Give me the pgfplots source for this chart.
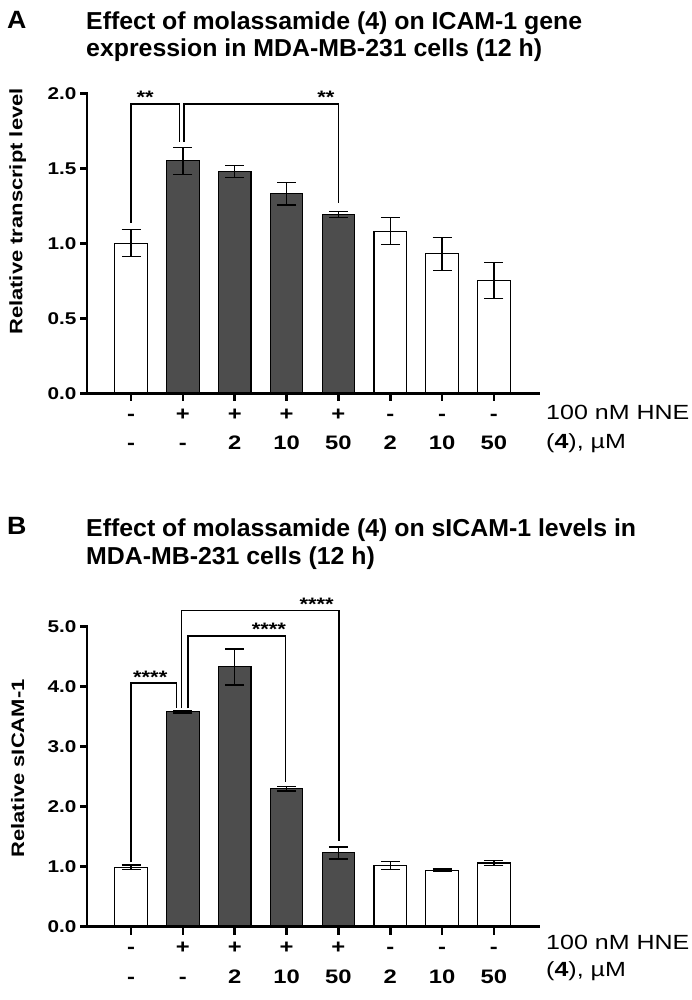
\documentclass[border=0pt]{standalone}
\usepackage{fontspec}
\setmainfont{Liberation Sans}
\newfontfamily\widefont[FakeStretch=1.22]{Liberation Sans}
\newfontfamily\titlefont[FakeStretch=1.015]{Liberation Sans}
\newfontfamily\panelfont[FakeStretch=1.07]{Liberation Sans}
\usepackage{pgfplots}
\usepackage{pgfplotstable}
\pgfplotsset{compat=1.18}
\definecolor{darkbar}{RGB}{77,77,77}

\pgfplotstableread{
x y e
1 1.00 0.09
6 1.08 0.09
7 0.93 0.11
8 0.75 0.12
}\Awhite
\pgfplotstableread{
x y e
2 1.55 0.09
3 1.48 0.04
4 1.33 0.075
5 1.19 0.02
}\Adark
\pgfplotstableread{
x y e
1 0.99 0.04
6 1.02 0.07
7 0.94 0.02
8 1.06 0.04
}\Bwhite
\pgfplotstableread{
x y e
2 3.58 0.02
3 4.33 0.30
4 2.30 0.04
5 1.23 0.10
}\Bdark

\tikzset{
  whitebar/.style={fill=white, draw=black, line width=1.2pt},
  darkbar/.style={fill=darkbar, draw=black, line width=1.2pt},
  bracket/.style={line width=1.2pt, black},
  spine/.style={line width=2.6pt, black, line cap=rect},
  tk/.style={line width=2.6pt, black},
  stars/.style={anchor=base, inner sep=0pt, font=\widefont\bfseries\fontsize{18}{18}\selectfont},
}
\pgfplotsset{
  myaxis/.style={
    scale only axis, width=451.5pt, height=300pt,
    xmin=0.15, xmax=8.86, ymin=0,
    axis lines=left,
    axis line style={-, line width=2.6pt, black},
    tick align=outside, major tick length=7pt,
    major tick style={line width=2.6pt, black},
    xtick={1,...,8},
    xticklabels={-,+,+,+,+,-,-,-},
    xticklabel style={font=\widefont\bfseries\fontsize{19.5}{20}\selectfont, anchor=base, yshift=-20pt},
    extra x ticks={1,...,8},
    extra x tick labels={-,-,2,10,50,2,10,50},
    extra x tick style={major tick style={draw=none}, xticklabel style={yshift=-29.5pt}},
    yticklabel style={font=\widefont\bfseries\fontsize{17}{17}\selectfont,
      /pgf/number format/assume math mode=true,
      /pgf/number format/fixed, /pgf/number format/fixed zerofill,
      /pgf/number format/precision=1},
    ybar, bar width=32.5pt, bar shift=0pt,
    clip=false,
    error bars/y dir=both, error bars/y explicit,
    error bars/error bar style={line width=1.3pt, black},
    error bars/error mark options={rotate=90, mark size=9.5pt, line width=1.3pt, black},
  },
}

\begin{document}
\begin{tikzpicture}
\path[use as bounding box] (0,0) rectangle (691pt,1000pt);
% ---------- Panel A ----------
\node[anchor=base west, inner sep=0pt, font=\panelfont\bfseries\fontsize{25}{28}\selectfont] at (7pt,971.7pt) {A};
\node[anchor=base west, inner sep=0pt, font=\titlefont\bfseries\fontsize{24.5}{28}\selectfont] at (86pt,970.7pt) {Effect of molassamide (4) on ICAM-1 gene};
\node[anchor=base west, inner sep=0pt, font=\titlefont\bfseries\fontsize{24.5}{28}\selectfont] at (86pt,943pt) {expression in MDA-MB-231 cells (12 h)};
\node[rotate=90, inner sep=0pt, font=\widefont\bfseries\fontsize{18}{20}\selectfont] at (17.7pt,788.5pt) {Relative transcript level};
\begin{axis}[myaxis, at={(87pt,606.7pt)}, anchor=south west, ymax=2, ytick={0,0.5,...,2}]
\addplot[whitebar] table[x=x, y=y, y error=e] {\Awhite};
\addplot[darkbar] table[x=x, y=y, y error=e] {\Adark};
\draw[spine] (rel axis cs:0,1) -- (rel axis cs:0,0) -- (rel axis cs:1,0);
\pgfplotsinvokeforeach{1,...,8}{\draw[tk] (axis cs:#1,0) -- ++(0pt,-8pt);}
\pgfplotsinvokeforeach{0,0.5,1,1.5,2}{\draw[tk] (axis cs:0.15,#1) -- ++(-7pt,0pt);}
\draw[bracket] (axis cs:1,1.138) |- (axis cs:1.93,1.929) -- (axis cs:1.93,1.676);
\draw[bracket] (axis cs:2.02,1.676) |- (axis cs:5,1.929) -- (axis cs:5,1.269);
\node[stars] at (axis cs:1.27,1.929) {**};
\node[stars] at (axis cs:4.76,1.929) {**};
\end{axis}
\node[anchor=base west, inner sep=0pt, font=\widefont\fontsize{20.5}{24}\selectfont] at (546pt,580.7pt) {100 nM HNE};
\node[anchor=base west, inner sep=0pt, font=\widefont\fontsize{20.5}{24}\selectfont] at (546pt,551.7pt) {(\textbf{4}), µM};
% ---------- Panel B ----------
\node[anchor=base west, inner sep=0pt, font=\panelfont\bfseries\fontsize{25}{28}\selectfont] at (7pt,465pt) {B};
\node[anchor=base west, inner sep=0pt, font=\titlefont\bfseries\fontsize{24.5}{28}\selectfont] at (86pt,463.3pt) {Effect of molassamide (4) on sICAM-1 levels in};
\node[anchor=base west, inner sep=0pt, font=\titlefont\bfseries\fontsize{24.5}{28}\selectfont] at (86pt,435.7pt) {MDA-MB-231 cells (12 h)};
\node[rotate=90, inner sep=0pt, font=\widefont\bfseries\fontsize{18}{20}\selectfont] at (17.7pt,231.5pt) {Relative sICAM-1};
\begin{axis}[myaxis, at={(87pt,73.3pt)}, anchor=south west, ymax=5, ytick={0,1,...,5}]
\addplot[whitebar] table[x=x, y=y, y error=e] {\Bwhite};
\addplot[darkbar] table[x=x, y=y, y error=e] {\Bdark};
\draw[spine] (rel axis cs:0,1) -- (rel axis cs:0,0) -- (rel axis cs:1,0);
\pgfplotsinvokeforeach{1,...,8}{\draw[tk] (axis cs:#1,0) -- ++(0pt,-8pt);}
\pgfplotsinvokeforeach{0,1,...,5}{\draw[tk] (axis cs:0.15,#1) -- ++(-7pt,0pt);}
\draw[bracket] (axis cs:1,1.072) |- (axis cs:1.87,4.06) -- (axis cs:1.87,3.64);
\draw[bracket] (axis cs:2.10,3.64) |- (axis cs:3.98,4.845) -- (axis cs:3.98,2.406);
\draw[bracket] (axis cs:1.98,3.64) |- (axis cs:5.01,5.27) -- (axis cs:5.01,1.433);
\node[stars] at (axis cs:1.37,4.06) {****};
\node[stars] at (axis cs:3.66,4.845) {****};
\node[stars] at (axis cs:4.58,5.27) {****};
\end{axis}
\node[anchor=base west, inner sep=0pt, font=\widefont\fontsize{20.5}{24}\selectfont] at (546pt,50.7pt) {100 nM HNE};
\node[anchor=base west, inner sep=0pt, font=\widefont\fontsize{20.5}{24}\selectfont] at (546pt,23.3pt) {(\textbf{4}), µM};
\end{tikzpicture}
\end{document}
